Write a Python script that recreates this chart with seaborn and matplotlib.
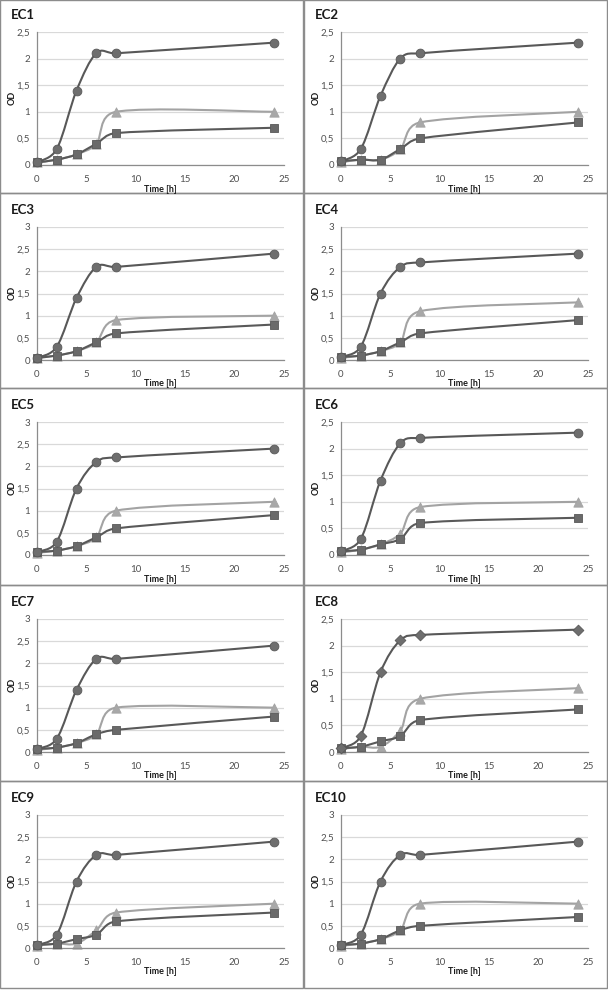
import numpy as np
import pandas as pd
import matplotlib
matplotlib.use("Agg")
import matplotlib.pyplot as plt
from matplotlib.path import Path
from matplotlib.patches import PathPatch, Rectangle
from matplotlib.ticker import FuncFormatter, MultipleLocator
import seaborn as sns

# sampling times (h)
time_h = [0, 2, 4, 6, 8, 24]
strains = ["EC1", "EC2", "EC3", "EC4", "EC5", "EC6", "EC7", "EC8", "EC9", "EC10"]

# upper curve (circles, diamonds in EC8)
od_top = [
    [0.05, 0.3, 1.4, 2.1, 2.1, 2.3],
    [0.07, 0.3, 1.3, 2.0, 2.1, 2.3],
    [0.05, 0.3, 1.4, 2.1, 2.1, 2.4],
    [0.07, 0.3, 1.5, 2.1, 2.2, 2.4],
    [0.07, 0.3, 1.5, 2.1, 2.2, 2.4],
    [0.07, 0.3, 1.4, 2.1, 2.2, 2.3],
    [0.07, 0.3, 1.4, 2.1, 2.1, 2.4],
    [0.07, 0.3, 1.5, 2.1, 2.2, 2.3],
    [0.07, 0.3, 1.5, 2.1, 2.1, 2.4],
    [0.07, 0.3, 1.5, 2.1, 2.1, 2.4],
]
# light grey triangles
od_tri = [
    [0.05, 0.1, 0.2, 0.4, 1.0, 1.0],
    [0.05, 0.1, 0.1, 0.3, 0.8, 1.0],
    [0.05, 0.1, 0.2, 0.4, 0.9, 1.0],
    [0.05, 0.1, 0.2, 0.4, 1.1, 1.3],
    [0.05, 0.1, 0.2, 0.4, 1.0, 1.2],
    [0.05, 0.1, 0.2, 0.4, 0.9, 1.0],
    [0.05, 0.1, 0.2, 0.4, 1.0, 1.0],
    [0.05, 0.1, 0.1, 0.4, 1.0, 1.2],
    [0.05, 0.1, 0.1, 0.4, 0.8, 1.0],
    [0.05, 0.1, 0.2, 0.4, 1.0, 1.0],
]
# dark squares
od_sq = [
    [0.05, 0.1, 0.2, 0.4, 0.6, 0.7],
    [0.07, 0.1, 0.1, 0.3, 0.5, 0.8],
    [0.05, 0.1, 0.2, 0.4, 0.6, 0.8],
    [0.07, 0.1, 0.2, 0.4, 0.6, 0.9],
    [0.07, 0.1, 0.2, 0.4, 0.6, 0.9],
    [0.07, 0.1, 0.2, 0.3, 0.6, 0.7],
    [0.07, 0.1, 0.2, 0.4, 0.5, 0.8],
    [0.07, 0.1, 0.2, 0.3, 0.6, 0.8],
    [0.07, 0.1, 0.2, 0.3, 0.6, 0.8],
    [0.07, 0.1, 0.2, 0.4, 0.5, 0.7],
]
y_max = [2.5, 2.5, 3, 3, 3, 2.5, 3, 2.5, 3, 3]
top_marker = ["o", "o", "o", "o", "o", "o", "o", "D", "o", "o"]

W, H = 608, 992
row_tops = [-2, 193, 388, 585, 781]
col_lefts = [0, 304]
PW, PH = 247, 133   # plot area in px


def smooth_path(x, y, ymax):
    # Excel-like smoothed line: bezier through the points, tension 1/6,
    # control arm capped at half the segment (worked out in screen units)
    sx, sy = PW / 25, PH / ymax
    pts = np.column_stack([np.asarray(x) * sx, np.asarray(y) * sy]).astype(float)
    n = len(pts)
    verts = [pts[0]]
    codes = [Path.MOVETO]
    for i in range(n - 1):
        p0 = pts[max(i - 1, 0)]
        p1 = pts[i]
        p2 = pts[i + 1]
        p3 = pts[min(i + 2, n - 1)]
        d12 = np.linalg.norm(p2 - p1)
        d02 = np.linalg.norm(p2 - p0)
        d13 = np.linalg.norm(p3 - p1)
        f1 = 1 / 6 if d02 / 6 < d12 / 2 else d12 / (2 * d02)
        f2 = 1 / 6 if d13 / 6 < d12 / 2 else d12 / (2 * d13)
        verts += [p1 + (p2 - p0) * f1, p2 - (p3 - p1) * f2, p2]
        codes += [Path.CURVE4] * 3
    verts = np.array(verts) / [sx, sy]
    return Path(verts, codes)


sns.set_style("white")
plt.rcParams["font.family"] = ["Lato", "DejaVu Sans"]

fig = plt.figure(figsize=(W / 100, H / 100), dpi=100)

comma = FuncFormatter(lambda v, p: f"{v:g}".replace(".", ","))

for k, name in enumerate(strains):
    row, col = divmod(k, 2)
    top = row_tops[row]
    x0 = col_lefts[col]
    bottom_px = 988 if row == 4 else row_tops[row + 1]

    # panel frame
    fig.patches.append(Rectangle((x0 / W, 1 - bottom_px / H), 303 / W,
                                 (bottom_px - max(top, 0)) / H,
                                 transform=fig.transFigure, fill=False,
                                 edgecolor="#8c8c8c", lw=1))

    ax = fig.add_axes([(x0 + 37) / W, 1 - (top + 167) / H, PW / W, PH / H])

    series = [
        (od_top[k], top_marker[k], "#6e6e6e", "#585858", 40 if top_marker[k] == "o" else 30, 3),
        (od_tri[k], "^", "#a8a8a8", "#a3a3a3", 45, 2),
        (od_sq[k], "s", "#6a6a6a", "#595959", 34, 2.5),
    ]
    for vals, mk, mcol, lcol, size, z in series:
        ax.add_patch(PathPatch(smooth_path(time_h, vals, y_max[k]), fill=False,
                               edgecolor=lcol, lw=1.5, zorder=z))
        df = pd.DataFrame({"t": time_h, "od": vals})
        sns.scatterplot(data=df, x="t", y="od", marker=mk, s=size, color=mcol,
                        edgecolor=lcol, linewidth=0.6, ax=ax, zorder=z + 0.5,
                        clip_on=False, legend=False)

    ax.set_xlim(0, 25)
    ax.set_ylim(0, y_max[k])
    ax.xaxis.set_major_locator(MultipleLocator(5))
    ax.yaxis.set_major_locator(MultipleLocator(0.5))
    ax.yaxis.set_major_formatter(comma)
    ax.grid(axis="y", color="#d9d9d9", lw=0.9)
    ax.set_axisbelow(True)
    for s in ["top", "right"]:
        ax.spines[s].set_visible(False)
    for s in ["left", "bottom"]:
        ax.spines[s].set_color("#8c8c8c")
        ax.spines[s].set_linewidth(0.9)
    ax.tick_params(axis="both", labelsize=7, colors="#8c8c8c", labelcolor="#505050",
                   length=3, width=0.8, direction="out")
    ax.tick_params(axis="y", length=0, pad=5)
    ax.tick_params(axis="x", pad=4)
    ax.set_xlabel("")
    ax.set_ylabel("")

    fig.text((x0 + 11) / W, 1 - (top + 17) / H, name, fontsize=9.5,
             fontweight="bold", ha="left", va="center", color="#1a1a1a")
    fig.text((x0 + 37 + 123.5) / W, 1 - (top + 191) / H, "Time [h]", fontsize=6.5,
             fontweight="bold", ha="center", va="center", color="#1a1a1a")
    fig.text((x0 + 12) / W, 1 - (top + 100) / H, "OD", fontsize=6.5,
             fontweight="bold", ha="center", va="center", rotation=90, color="#1a1a1a")

fig.savefig("out.png", dpi=100, facecolor="white")
